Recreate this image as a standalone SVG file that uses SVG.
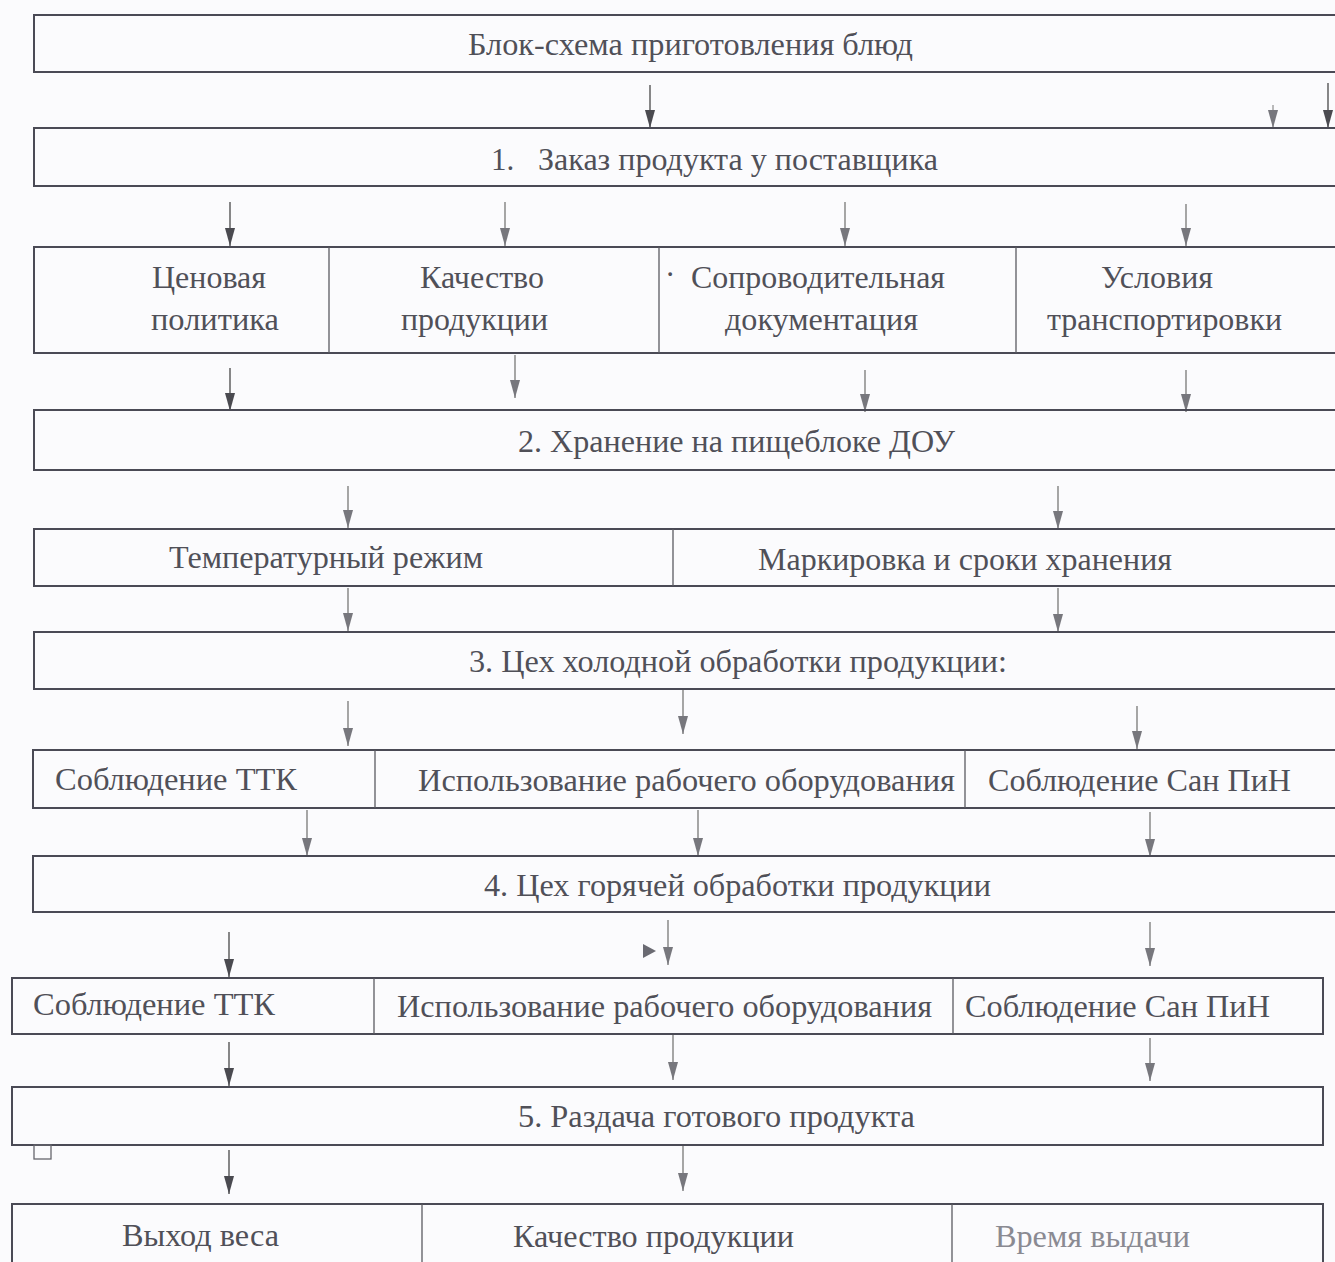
<svg xmlns="http://www.w3.org/2000/svg" width="1335" height="1262" viewBox="0 0 1335 1262">
<style>
.bx{fill:none;stroke:#4a4a55;stroke-width:2}
.dv{stroke:#5a5a62;stroke-width:1.3}
.t{font-family:"Liberation Serif","Times New Roman",serif;font-size:31px;fill:#505058}
.lt{fill:#8a8a92}
.ar{stroke:#555;stroke-width:1.4;fill:none;marker-end:url(#ahd)}
.ag{stroke:#777;stroke-width:1.3;fill:none;marker-end:url(#ahg)}
</style>
<defs>
<marker id="ahd" viewBox="0 0 10 18" refX="5" refY="18" markerWidth="10" markerHeight="18" markerUnits="userSpaceOnUse" orient="0">
<path d="M0,0 L10,0 L5,18 Z" fill="#4a4a50"/>
</marker>
<marker id="ahg" viewBox="0 0 10 18" refX="5" refY="18" markerWidth="10" markerHeight="18" markerUnits="userSpaceOnUse" orient="0">
<path d="M0,0 L10,0 L5,18 Z" fill="#77777d"/>
</marker>
</defs>
<rect width="1335" height="1262" fill="#fbfbfd"/>

<g id="connectors">
<path class="ar" d="M650,85 V128"/>
<path class="ag" d="M1273,105 V128" style="stroke-width:1"/>
<path class="ar" d="M1328,83 V128"/>
<path class="ar" d="M230,202 V246"/>
<path class="ag" d="M505,202 V246"/>
<path class="ag" d="M845,202 V246"/>
<path class="ag" d="M1186,204 V246"/>
<path class="ar" d="M230,368 V411"/>
<path class="ag" d="M515,355 V398"/>
<path class="ag" d="M865,370 V412"/>
<path class="ag" d="M1186,370 V412"/>
<path class="ag" d="M348,486 V528"/>
<path class="ag" d="M1058,486 V529"/>
<path class="ag" d="M348,588 V631"/>
<path class="ag" d="M1058,588 V632"/>
<path class="ag" d="M348,701 V746"/>
<path class="ag" d="M683,690 V734"/>
<path class="ag" d="M1137,706 V749"/>
<path class="ag" d="M307,810 V856"/>
<path class="ag" d="M698,810 V856"/>
<path class="ag" d="M1150,812 V857"/>
<path class="ar" d="M229,932 V977"/>
<path class="ag" d="M668,920 V965"/>
<path d="M643,944 L656,951 L643,958 Z" fill="#6a6a72"/>
<path class="ag" d="M1150,922 V966"/>
<path class="ar" d="M229,1042 V1086"/>
<path class="ag" d="M673,1033 V1080"/>
<path class="ag" d="M1150,1038 V1081"/>
<path class="ar" d="M229,1150 V1194"/>
<path class="ag" d="M683,1145 V1191"/>
</g>

<g id="n0">
<path class="bx" d="M1340,15 H34 V72 H1340"/>
<text class="t" x="468" y="55" textLength="445" lengthAdjust="spacingAndGlyphs">Блок-схема приготовления блюд</text>
</g>

<g id="n1">
<path class="bx" d="M1340,128 H34 V186 H1340"/>
<text class="t" x="491" y="170">1.</text>
<text class="t" x="538" y="170" textLength="400" lengthAdjust="spacingAndGlyphs">Заказ продукта у поставщика</text>
</g>

<g id="n1a">
<path class="bx" d="M1340,247 H34 V353 H1340"/>
<line class="dv" x1="329" y1="247" x2="329" y2="353"/>
<line class="dv" x1="659" y1="247" x2="659" y2="353"/>
<line class="dv" x1="1016" y1="247" x2="1016" y2="353"/>
<text class="t" x="152" y="288" textLength="114" lengthAdjust="spacingAndGlyphs">Ценовая</text>
<text class="t" x="151" y="330" textLength="128" lengthAdjust="spacingAndGlyphs">политика</text>
<text class="t" x="420" y="288" textLength="124" lengthAdjust="spacingAndGlyphs">Качество</text>
<text class="t" x="401" y="330" textLength="147" lengthAdjust="spacingAndGlyphs">продукции</text>
<text class="t" x="665" y="285">·</text>
<text class="t" x="691" y="288" textLength="254" lengthAdjust="spacingAndGlyphs">Сопроводительная</text>
<text class="t" x="725" y="330" textLength="193" lengthAdjust="spacingAndGlyphs">документация</text>
<text class="t" x="1101" y="288" textLength="112" lengthAdjust="spacingAndGlyphs">Условия</text>
<text class="t" x="1047" y="330" textLength="235" lengthAdjust="spacingAndGlyphs">транспортировки</text>
</g>

<g id="n2">
<path class="bx" d="M1340,410 H34 V470 H1340"/>
<text class="t" x="518" y="452" textLength="437" lengthAdjust="spacingAndGlyphs">2. Хранение на пищеблоке ДОУ</text>
</g>

<g id="n2a">
<path class="bx" d="M1340,529 H34 V586 H1340"/>
<line class="dv" x1="673" y1="529" x2="673" y2="586"/>
<text class="t" x="169" y="568" textLength="314" lengthAdjust="spacingAndGlyphs">Температурный режим</text>
<text class="t" x="758" y="570" textLength="414" lengthAdjust="spacingAndGlyphs">Маркировка и сроки хранения</text>
</g>

<g id="n3">
<path class="bx" d="M1340,632 H34 V689 H1340"/>
<text class="t" x="469" y="672" textLength="538" lengthAdjust="spacingAndGlyphs">3. Цех холодной обработки продукции:</text>
</g>

<g id="n3a">
<path class="bx" d="M1340,750 H33 V808 H1340"/>
<line class="dv" x1="375" y1="750" x2="375" y2="808"/>
<line class="dv" x1="965" y1="750" x2="965" y2="808"/>
<text class="t" x="55" y="790" textLength="242" lengthAdjust="spacingAndGlyphs">Соблюдение ТТК</text>
<text class="t" x="418" y="791" textLength="537" lengthAdjust="spacingAndGlyphs">Использование рабочего оборудования</text>
<text class="t" x="988" y="791" textLength="303" lengthAdjust="spacingAndGlyphs">Соблюдение Сан ПиН</text>
</g>

<g id="n4">
<path class="bx" d="M1340,856 H33 V912 H1340"/>
<text class="t" x="484" y="896" textLength="507" lengthAdjust="spacingAndGlyphs">4. Цех горячей обработки продукции</text>
</g>

<g id="n4a">
<rect class="bx" x="12" y="978" width="1311" height="56"/>
<line class="dv" x1="374" y1="978" x2="374" y2="1034"/>
<line class="dv" x1="953" y1="978" x2="953" y2="1034"/>
<text class="t" x="33" y="1015" textLength="242" lengthAdjust="spacingAndGlyphs">Соблюдение ТТК</text>
<text class="t" x="397" y="1017" textLength="535" lengthAdjust="spacingAndGlyphs">Использование рабочего оборудования</text>
<text class="t" x="965" y="1017" textLength="305" lengthAdjust="spacingAndGlyphs">Соблюдение Сан ПиН</text>
</g>

<g id="n5">
<rect class="bx" x="12" y="1087" width="1311" height="58"/>
<text class="t" x="518" y="1127" textLength="397" lengthAdjust="spacingAndGlyphs">5. Раздача готового продукта</text>
<rect x="34" y="1145" width="17" height="14" fill="none" stroke="#66666e" stroke-width="1.3"/>
</g>

<g id="n5a">
<path class="bx" d="M12,1270 V1204 H1323 V1270"/>
<line class="dv" x1="422" y1="1204" x2="422" y2="1262"/>
<line class="dv" x1="952" y1="1204" x2="952" y2="1262"/>
<text class="t" x="122" y="1246" textLength="157" lengthAdjust="spacingAndGlyphs">Выход веса</text>
<text class="t" x="513" y="1247" textLength="281" lengthAdjust="spacingAndGlyphs">Качество продукции</text>
<text class="t lt" x="995" y="1247" textLength="195" lengthAdjust="spacingAndGlyphs">Время выдачи</text>
</g>
</svg>
